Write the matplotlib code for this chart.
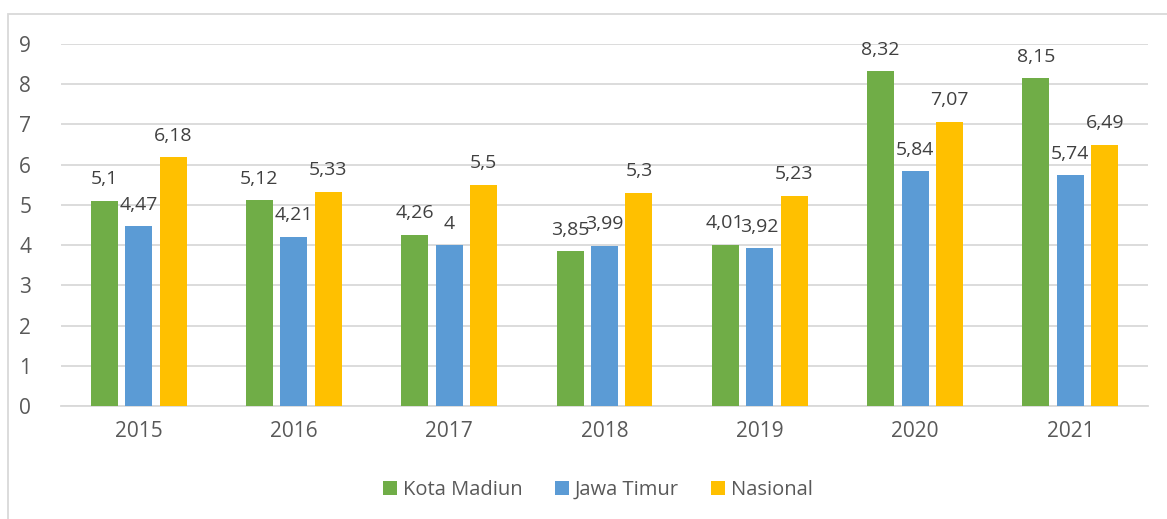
import numpy as np
import matplotlib.pyplot as plt
from matplotlib.patches import Rectangle

plt.rcParams['font.family'] = ['Open Sans', 'DejaVu Sans']

years = ['2015', '2016', '2017', '2018', '2019', '2020', '2021']
kota_madiun = [5.1, 5.12, 4.26, 3.85, 4.01, 8.32, 8.15]
jawa_timur = [4.47, 4.21, 4.0, 3.99, 3.92, 5.84, 5.74]
nasional = [6.18, 5.33, 5.5, 5.3, 5.23, 7.07, 6.49]

series = [('Kota Madiun', kota_madiun, '#70AD47'),
          ('Jawa Timur', jawa_timur, '#5B9BD5'),
          ('Nasional', nasional, '#FFC000')]

txt = '#595959'
fig = plt.figure(figsize=(11.67, 5.19), dpi=100)
ax = fig.add_axes([61 / 1167, 1 - 406 / 519, 1087 / 1167, 362 / 519])

x = np.arange(len(years))
step = 0.222
width = 0.174
for i, (name, vals, col) in enumerate(series):
    pos = x + (i - 1) * step
    ax.bar(pos, vals, width=width, color=col, label=name, zorder=3)
    for p, v in zip(pos, vals):
        lab = ('%g' % v).replace('.', ',')
        ax.annotate(lab, (p, v), xytext=(0, 9), textcoords='offset points',
                    ha='center', va='bottom', fontsize=14, color='#404040', zorder=4)

ax.set_xlim(-0.5, 6.5)
ax.set_ylim(0, 9)
ax.set_yticks(range(0, 10))
ax.set_xticks(x)
ax.set_xticklabels(years)
ax.yaxis.grid(True, color='#D9D9D9', linewidth=1.3, zorder=0)
for s in ['top', 'right', 'left']:
    ax.spines[s].set_visible(False)
ax.spines['bottom'].set_color('#D9D9D9')
ax.spines['bottom'].set_linewidth(1.3)
ax.tick_params(axis='both', length=0, labelsize=15, colors=txt)
ax.tick_params(axis='x', pad=11)
ax.tick_params(axis='y', pad=30)
for t in ax.get_yticklabels():
    t.set_ha('left')

fig.legend(loc='center', bbox_to_anchor=(598 / 1167, 1 - 490 / 519), ncol=3,
           frameon=False, fontsize=14.5, labelcolor=txt, handlelength=0.7,
           handleheight=0.7, handletextpad=0.3, columnspacing=1.6)

fig.patches.append(Rectangle((8 / 1167, -0.1), 1.2, 1 - 14 / 519 + 0.1,
                             transform=fig.transFigure, fill=False,
                             edgecolor='#D9D9D9', linewidth=1.3))

fig.savefig('out.png', dpi=100)
